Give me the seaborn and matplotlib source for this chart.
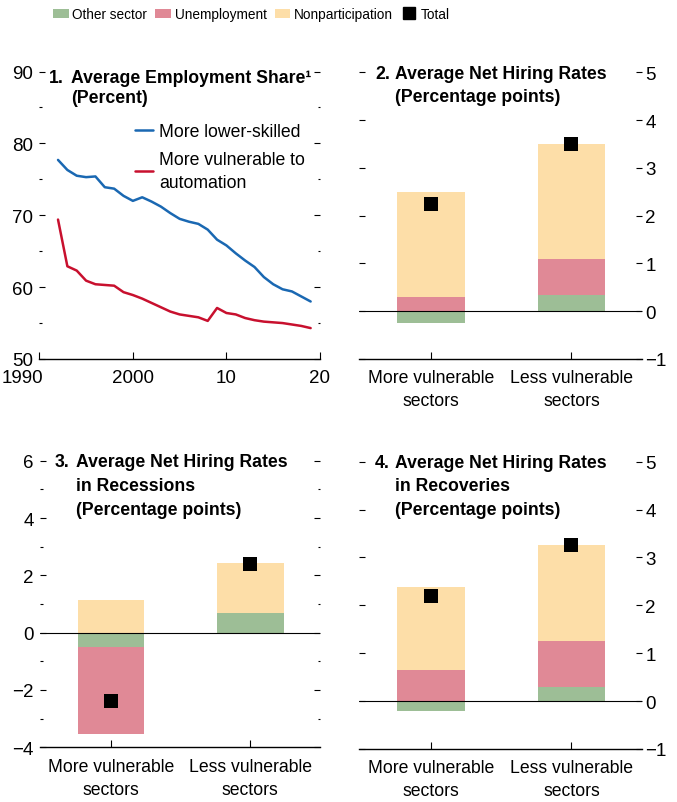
import numpy as np
import pandas as pd
import matplotlib
matplotlib.use('Agg')
import matplotlib.pyplot as plt
from matplotlib import font_manager
from matplotlib.ticker import MultipleLocator
from matplotlib.patches import Patch
from matplotlib.lines import Line2D
from matplotlib.transforms import ScaledTranslation
import seaborn as sns

# ---- values ----
years = list(range(1992, 2020))
lower_skilled = [77.7, 76.3, 75.5, 75.3, 75.4, 73.9, 73.7, 72.7, 72.0, 72.5,
                 71.9, 71.2, 70.3, 69.5, 69.1, 68.8, 68.0, 66.6, 65.8, 64.7,
                 63.7, 62.8, 61.4, 60.4, 59.7, 59.4, 58.7, 58.0]
vulnerable_auto = [69.4, 62.9, 62.3, 60.9, 60.4, 60.3, 60.2, 59.3, 58.9, 58.4,
                   57.8, 57.2, 56.6, 56.2, 56.0, 55.8, 55.3, 57.1, 56.4, 56.2,
                   55.7, 55.4, 55.2, 55.1, 55.0, 54.8, 54.6, 54.3]

sectors = ['More vulnerable\nsectors', 'Less vulnerable\nsectors']
components = ['Other sector', 'Unemployment', 'Nonparticipation']

# panel 2: whole sample
avg_other = [-0.24, 0.34]
avg_unemp = [0.30, 0.75]
avg_nonpart = [2.19, 2.40]
avg_total = [2.24, 3.49]

# panel 3: recessions
rec_other = [-0.50, 0.69]
rec_unemp = [-3.05, 0.0]
rec_nonpart = [1.13, 1.73]
rec_total = [-2.37, 2.41]

# panel 4: recoveries
recov_other = [-0.21, 0.29]
recov_unemp = [0.66, 0.96]
recov_nonpart = [1.73, 2.02]
recov_total = [2.20, 3.26]

GREEN = '#9dbe96'
PINK = '#e08996'
PEACH = '#fddea8'
BLUE = '#1a68b2'
RED = '#c8102e'
comp_colors = [GREEN, PINK, PEACH]

sns.set_theme(style='white')
names = {f.name for f in font_manager.fontManager.ttflist}
if 'Liberation Sans Narrow' in names:
    FONT, K = 'Liberation Sans Narrow', 1.0
else:
    FONT, K = 'Liberation Sans', 0.82
plt.rcParams['font.family'] = [FONT, 'DejaVu Sans']
plt.rcParams['text.color'] = 'black'
plt.rcParams['xtick.color'] = 'black'
plt.rcParams['ytick.color'] = 'black'

W, H = 677, 803
fig = plt.figure(figsize=(W / 100, H / 100), dpi=100)

TICK_FS = 16.5 * K
CAT_FS = 15.5 * K
TITLE_FS = 15.5 * K
LEG_FS = 15.5 * K
TOP_FS = 12 * K


def px_axes(x0, y0, x1, y1):
    # box given in pixels: left, top, right, bottom
    return fig.add_axes([x0 / W, 1 - y1 / H, (x1 - x0) / W, (y1 - y0) / H])


def style(ax, side):
    for s in ['left', 'right', 'top']:
        ax.spines[s].set_visible(False)
    ax.spines['bottom'].set_color('black')
    ax.spines['bottom'].set_linewidth(1.0)
    ax.grid(False)
    ax.set_xlabel('')
    ax.set_ylabel('')
    ax.tick_params(axis='y', which='both', direction='in', left=True, right=True,
                   labelleft=(side == 'left'), labelright=(side == 'right'),
                   labelsize=TICK_FS, width=0.8)
    ax.tick_params(axis='y', which='major', length=4.3,
                   pad=4.5 if side == 'left' else 2.5)
    ax.tick_params(axis='y', which='minor', length=1.8)
    ax.tick_params(axis='x', which='major', direction='in', bottom=True, top=False,
                   length=5, width=0.8)


def title(num, lines, x_num, x_text, baselines):
    kw = dict(fontweight='bold', fontsize=TITLE_FS, va='baseline', ha='left')
    fig.text(x_num / W, 1 - baselines[0] / H, num, **kw)
    for line, b in zip(lines, baselines):
        fig.text(x_text / W, 1 - b / H, line, **kw)


# ---- panel 1 ----
ax1 = px_axes(39.3, 72.5, 320, 360)
emp = pd.DataFrame({
    'year': years * 2,
    'share': lower_skilled + vulnerable_auto,
    'group': ['More lower-skilled'] * len(years) + ['More vulnerable to\nautomation'] * len(years),
})
sns.lineplot(data=emp, x='year', y='share', hue='group',
             palette={'More lower-skilled': BLUE, 'More vulnerable to\nautomation': RED},
             linewidth=1.8, ax=ax1, legend=False)
ax1.set_xlim(1990, 2020)
ax1.set_ylim(50, 90)
ax1.yaxis.set_major_locator(MultipleLocator(10))
ax1.yaxis.set_minor_locator(MultipleLocator(5))
ax1.set_xticks([1990, 2000, 2010, 2020])
ax1.set_xticklabels(['1990', '2000', '10', '20'])
style(ax1, 'left')
ax1.tick_params(axis='x', labelsize=TICK_FS, pad=7)
first = ax1.get_xticklabels()[0]
first.set_ha('right')
first.set_transform(first.get_transform() + ScaledTranslation(3.5 / 100, 0, fig.dpi_scale_trans))

fs_px = LEG_FS * 100 / 72
leg = ax1.legend(handles=[Line2D([], [], color=BLUE, lw=1.8, label='More lower-skilled'),
                          Line2D([], [], color=RED, lw=1.8, label='More vulnerable to\nautomation')],
                 loc='upper left', bbox_to_anchor=(135 / W, 1 - 124 / H),
                 bbox_transform=fig.transFigure, frameon=False, fontsize=LEG_FS,
                 handlelength=18.3 / fs_px, handletextpad=6 / fs_px,
                 labelspacing=0.62, borderpad=0, borderaxespad=0)
for t in leg.get_texts():
    t.set_linespacing(1.45)
title('1.', ['Average Employment Share\u00b9', '(Percent)'], 49.3, 70.7, [83, 103])


# ---- bar panels ----
def stacked(ax, other, unemp, nonpart, total, ylim, side):
    df = pd.DataFrame({'sector': sectors, 'Other sector': other,
                       'Unemployment': unemp, 'Nonparticipation': nonpart,
                       'Total': total})
    pos = np.zeros(len(sectors))
    neg = np.zeros(len(sectors))
    for comp, col in zip(components, comp_colors):
        vals = df[comp].to_numpy(dtype=float)
        bottom = np.where(vals >= 0, pos, neg)
        sns.barplot(data=df, x='sector', y=comp, order=sectors, color=col,
                    saturation=1, width=0.48, errorbar=None, linewidth=0,
                    bottom=bottom, ax=ax)
        pos += np.clip(vals, 0, None)
        neg += np.clip(vals, None, 0)
    ax.axhline(0, color='black', lw=0.8, zorder=4)
    sns.scatterplot(data=df, x='sector', y='Total', marker='s', s=112,
                    color='black', linewidth=0, ax=ax, zorder=5)
    ax.set_xlim(-0.51, 1.5)
    ax.set_ylim(*ylim)
    style(ax, side)
    ax.tick_params(axis='x', labelsize=CAT_FS, pad=7.5)
    for lbl in ax.get_xticklabels():
        lbl.set_linespacing(1.45)


ax2 = px_axes(359.3, 73.3, 641.7, 360)
stacked(ax2, avg_other, avg_unemp, avg_nonpart, avg_total, (-1, 5), 'right')
ax2.yaxis.set_major_locator(MultipleLocator(1))
title('2.', ['Average Net Hiring Rates', '(Percentage points)'], 375, 395, [79, 101.5])

ax3 = px_axes(40, 461.7, 320, 748.3)
stacked(ax3, rec_other, rec_unemp, rec_nonpart, rec_total, (-4, 6), 'left')
ax3.yaxis.set_major_locator(MultipleLocator(2))
ax3.yaxis.set_minor_locator(MultipleLocator(1))
title('3.', ['Average Net Hiring Rates', 'in Recessions', '(Percentage points)'],
      55, 76, [467.5, 491.5, 515])

ax4 = px_axes(359.3, 462.7, 641.7, 750)
stacked(ax4, recov_other, recov_unemp, recov_nonpart, recov_total, (-1, 5), 'right')
ax4.yaxis.set_major_locator(MultipleLocator(1))
title('4.', ['Average Net Hiring Rates', 'in Recoveries', '(Percentage points)'],
      375, 395, [468.5, 491.5, 515])

# ---- top legend ----
top_px = TOP_FS * 100 / 72
handles = [Patch(facecolor=c, edgecolor='none', label=l) for c, l in zip(comp_colors, components)]
handles.append(Line2D([], [], marker='s', color='black', linestyle='none',
                      markersize=8, label='Total'))
fig.legend(handles=handles, loc='upper left', bbox_to_anchor=(53 / W, 1 - 8 / H),
           ncol=4, frameon=False, fontsize=TOP_FS, handlelength=15.7 / top_px,
           handleheight=8.7 / top_px, handletextpad=3.7 / top_px,
           columnspacing=8 / top_px, borderpad=0, borderaxespad=0)

fig.savefig('out.png', dpi=100)
